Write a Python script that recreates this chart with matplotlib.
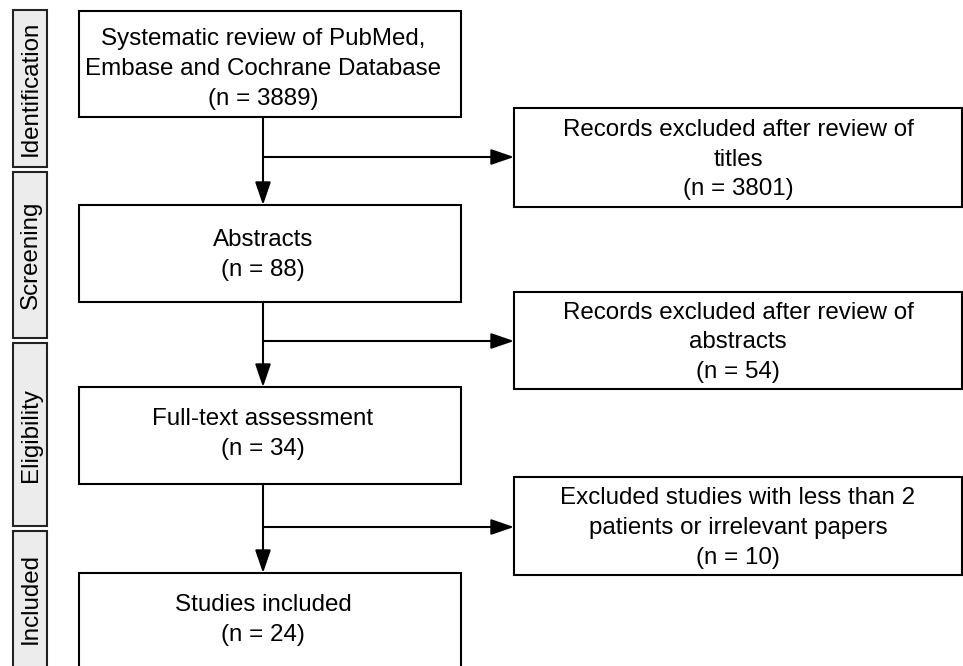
import matplotlib.pyplot as plt
from matplotlib.patches import Rectangle, FancyArrowPatch, ArrowStyle

plt.rcParams['font.family'] = ['Liberation Sans', 'DejaVu Sans']

# Stage labels down the left side
stages = ["Identification", "Screening", "Eligibility", "Included"]
stage_spans = [(10, 167), (172, 338), (343, 526), (531, 680)]

# Main column boxes
main_texts = [
    "Systematic review of PubMed,\nEmbase and Cochrane Database\n(n = 3889)",
    "Abstracts\n(n = 88)",
    "Full-text assessment\n(n = 34)",
    "Studies included\n(n = 24)",
]
main_spans = [(11, 117), (205, 302), (387, 484), (573, 690)]
main_text_y = [69, 255, 434, 620]

# Exclusion boxes
excl_texts = [
    "Records excluded after review of\ntitles\n(n = 3801)",
    "Records excluded after review of\nabstracts\n(n = 54)",
    "Excluded studies with less than 2\npatients or irrelevant papers\n(n = 10)",
]
excl_spans = [(108, 207), (292, 389), (477, 575)]
branch_y = [157, 341, 527]

fig = plt.figure(figsize=(9.63, 6.66), dpi=100)
ax = fig.add_axes([0, 0, 1, 1])
ax.set_xlim(0, 963)
ax.set_ylim(666, 0)
ax.axis('off')

lw = 1.5
fs = 17.4
ls = 1.47

for label, (y0, y1) in zip(stages, stage_spans):
    ax.add_patch(Rectangle((13, y0), 34, y1 - y0, facecolor='#ececec',
                           edgecolor='#222222', lw=lw))
    ax.text(31, (y0 + min(y1, 666)) / 2, label, rotation=90, ha='center',
            va='center', fontsize=fs)

main_x0, main_x1 = 79, 461
cx = 263
for txt, (y0, y1), ty in zip(main_texts, main_spans, main_text_y):
    ax.add_patch(Rectangle((main_x0, y0), main_x1 - main_x0, y1 - y0,
                           facecolor='white', edgecolor='black', lw=lw))
    ax.text(cx, ty, txt, ha='center', va='center', fontsize=fs, linespacing=ls)

ex_x0, ex_x1 = 514, 962
for txt, (y0, y1) in zip(excl_texts, excl_spans):
    ax.add_patch(Rectangle((ex_x0, y0), ex_x1 - ex_x0, y1 - y0,
                           facecolor='white', edgecolor='black', lw=lw))
    ax.text((ex_x0 + ex_x1) / 2, (y0 + y1) / 2 + 2, txt, ha='center',
            va='center', fontsize=fs, linespacing=ls)

style = ArrowStyle('-|>', head_length=14, head_width=4.8)
for i in range(3):
    top = main_spans[i][1]
    nxt = main_spans[i + 1][0]
    ax.add_patch(FancyArrowPatch((cx, top), (cx, nxt), arrowstyle=style,
                                 mutation_scale=1, color='black', lw=lw,
                                 shrinkA=0, shrinkB=0))
    ax.add_patch(FancyArrowPatch((cx, branch_y[i]), (ex_x0, branch_y[i]),
                                 arrowstyle=style, mutation_scale=1,
                                 color='black', lw=lw, shrinkA=0, shrinkB=0))

fig.savefig('out.png', dpi=100)
